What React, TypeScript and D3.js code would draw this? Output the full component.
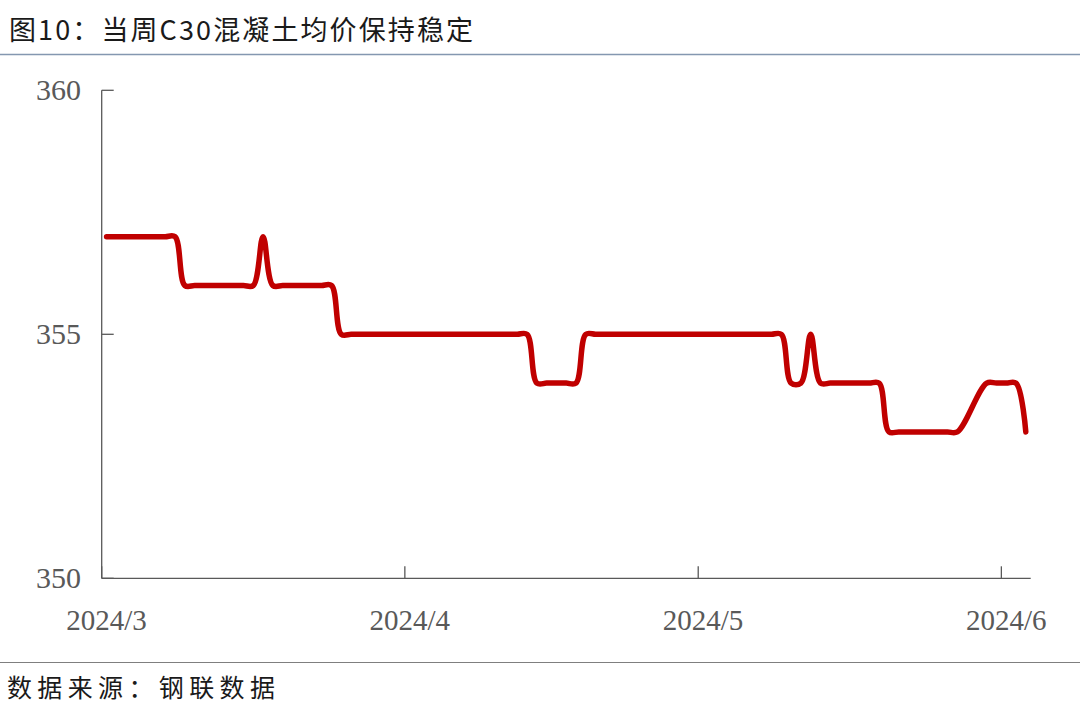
import * as d3 from 'd3';

// daily C30 price, starting 2024-03-01 (null = no quote that day)
const startDate = Date.UTC(2024, 2, 1);
const prices: (number | null)[] = [
  357, 357, 357, 357, 357, 357, 357, 357, // Mar 1-8
  356, 356, 356, 356, 356, 356, 356, 356, // Mar 9-16
  357, // Mar 17
  356, 356, 356, 356, 356, 356, 356, // Mar 18-24
  355, 355, 355, 355, 355, 355, 355, 355, 355, 355,
  355, 355, 355, 355, 355, 355, 355, 355, 355, 355, // Mar 25 - Apr 13
  354, 354, 354, 354, 354, // Apr 14-18
  355, 355, 355, 355, 355, 355, 355, 355, 355, 355,
  355, 355, 355, 355, 355, 355, 355, 355, 355, 355, 355, // Apr 19 - May 9
  354, 354, // May 10-11
  355, // May 12
  354, 354, 354, 354, 354, 354, 354, // May 13-19
  353, 353, 353, 353, 353, 353, 353, 353, // May 20-27
  null, null, // May 28-29
  354, 354, 354, 354, // May 30 - Jun 2
  353, // Jun 3
];

const yTicks = [350, 355, 360];
const xTickDates = [
  new Date(Date.UTC(2024, 2, 1)),
  new Date(Date.UTC(2024, 3, 1)),
  new Date(Date.UTC(2024, 4, 1)),
  new Date(Date.UTC(2024, 5, 1)),
];
const xTickLabels = ['2024/3', '2024/4', '2024/5', '2024/6'];

const title = '图10：当周C30混凝土均价保持稳定';
const source = '数据来源：钢联数据';

const W = 1080;
const H = 718;
const left = 101.7;
const right = 1030.7;
const top = 90.3;
const bottom = 578.3;

const axisColor = '#595959';
const serif = '"Liberation Serif", "Times New Roman", serif';
const cjk = '"Noto Sans CJK SC", "Noto Sans", sans-serif';

export default function App() {
  const x = d3
    .scaleUtc()
    .domain([new Date(startDate), new Date(Date.UTC(2024, 5, 4))])
    .range([left, right]);
  const y = d3.scaleLinear().domain([350, 360]).range([bottom, top]);

  // each day sits in the middle of its own slot
  const mid = (d: Date) => x(d3.utcHour.offset(d, 12));

  const points = prices
    .map((v, i) => ({ date: d3.utcDay.offset(new Date(startDate), i), value: v }))
    .filter((p) => p.value !== null) as { date: Date; value: number }[];

  const line = d3
    .line<{ date: Date; value: number }>()
    .curve(d3.curveCatmullRom.alpha(0.5))
    .x((d) => mid(d.date))
    .y((d) => y(d.value));

  return (
    <svg
      width={W}
      height={H}
      style={{ position: 'absolute', left: 0, top: 0, background: '#fff' }}
    >
      <rect x={0} y={0} width={W} height={H} fill="#fff" />

      {/* title */}
      <text
        x={9}
        y={40}
        fontFamily={cjk}
        fontSize={27}
        fill="#1a1a1a"
        textLength={464}
        lengthAdjust="spacing"
      >
        {title}
      </text>
      <line x1={0} x2={W} y1={54.5} y2={54.5} stroke="#8497b0" strokeWidth={1.3} />

      {/* y axis */}
      <line x1={left} x2={left} y1={top} y2={bottom} stroke={axisColor} strokeWidth={1.3} />
      {yTicks.map((t) => (
        <g key={t}>
          <line x1={left} x2={left + 12} y1={y(t)} y2={y(t)} stroke={axisColor} strokeWidth={1.3} />
          <text
            x={81}
            y={y(t) + 10}
            textAnchor="end"
            fontFamily={serif}
            fontSize={30}
            fill={axisColor}
          >
            {t}
          </text>
        </g>
      ))}

      {/* x axis */}
      <line x1={left} x2={right} y1={bottom} y2={bottom} stroke={axisColor} strokeWidth={1.3} />
      {xTickDates.map((d, i) => (
        <g key={i}>
          <line x1={x(d)} x2={x(d)} y1={bottom} y2={bottom - 12} stroke={axisColor} strokeWidth={1.3} />
          <text
            x={mid(d)}
            y={630}
            textAnchor="middle"
            fontFamily={serif}
            fontSize={29}
            fill={axisColor}
          >
            {xTickLabels[i]}
          </text>
        </g>
      ))}

      {/* series */}
      <path
        d={line(points) ?? ''}
        fill="none"
        stroke="#c00000"
        strokeWidth={5.5}
        strokeLinecap="round"
        strokeLinejoin="round"
      />

      {/* source */}
      <line x1={0} x2={W} y1={662.5} y2={662.5} stroke="#7f7f7f" strokeWidth={1.2} />
      <text
        x={7}
        y={697}
        fontFamily={cjk}
        fontSize={25}
        fill="#1a1a1a"
        textLength={268}
        lengthAdjust="spacing"
      >
        {source}
      </text>
    </svg>
  );
}
